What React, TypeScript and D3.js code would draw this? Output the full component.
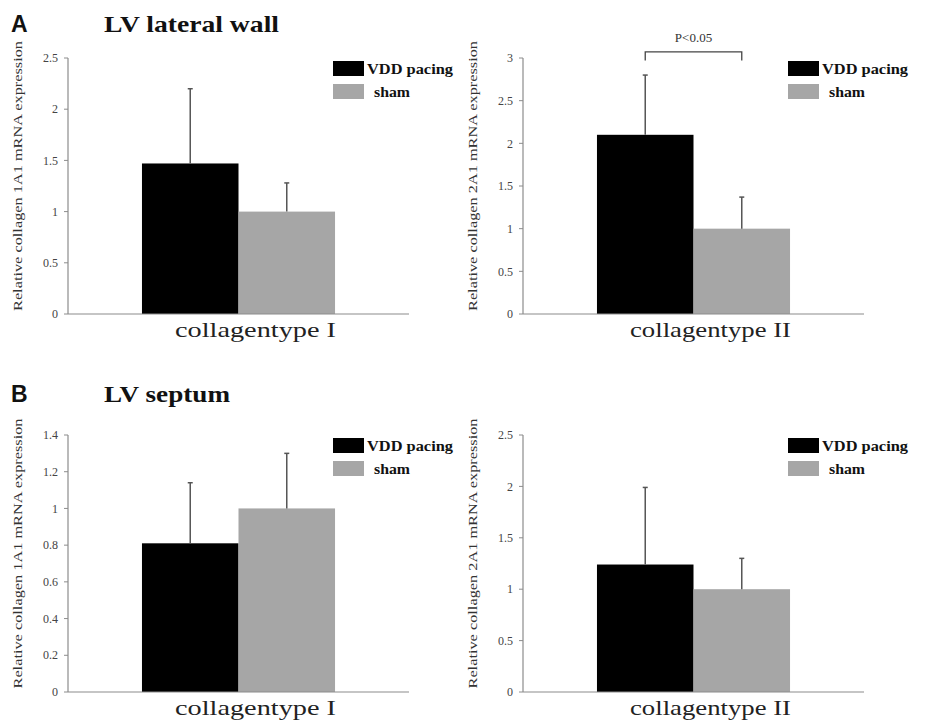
import React from "react";
import * as d3 from "d3";

// values
const series = ["VDD pacing", "sham"];
const category = ["collagen"];

const latIMeans = [1.47, 1.0];
const latIErr = [2.2, 1.28];
const latIIMeans = [2.1, 1.0];
const latIIErr = [2.8, 1.37];
const sepIMeans = [0.81, 1.0];
const sepIErr = [1.14, 1.3];
const sepIIMeans = [1.24, 1.0];
const sepIIErr = [1.99, 1.3];

const ticks25 = [0, 0.5, 1, 1.5, 2, 2.5];
const ticks3 = [0, 0.5, 1, 1.5, 2, 2.5, 3];
const ticks14 = [0, 0.2, 0.4, 0.6, 0.8, 1, 1.2, 1.4];

const colors = ["#000000", "#a6a6a6"];
const serif = "'Liberation Serif', 'Times New Roman', serif";

const plotW = 341;

type PanelProps = {
  x: number;
  top: number;
  bottom: number;
  means: number[];
  errs: number[];
  ticks: number[];
  yLabel: string;
  xLabel: string;
  pValue?: string;
};

function Panel({ x, top, bottom, means, errs, ticks, yLabel, xLabel, pValue }: PanelProps) {
  const yMax = ticks[ticks.length - 1];
  const y = d3.scaleLinear().domain([0, yMax]).range([bottom, top]);
  const x0 = d3.scaleBand().domain(category).range([0, plotW]).padding(0.277);
  const x1 = d3.scaleBand().domain(series).range([0, x0.bandwidth()]);
  const bx = (s: string) => x + (x0(category[0]) ?? 0) + (x1(s) ?? 0);
  const mid = (s: string) => bx(s) + x1.bandwidth() / 2;

  return (
    <g>
      {/* bars */}
      {series.map((s, i) => (
        <rect key={s} x={bx(s)} y={y(means[i])} width={x1.bandwidth()} height={bottom - y(means[i])} fill={colors[i]} />
      ))}
      {/* error bars (upper only) */}
      {series.map((s, i) => (
        <g key={s + "err"} stroke="#555" strokeWidth={1.5}>
          <line x1={mid(s)} x2={mid(s)} y1={y(means[i])} y2={y(errs[i])} />
          <line x1={mid(s) - 2.5} x2={mid(s) + 2.5} y1={y(errs[i])} y2={y(errs[i])} />
        </g>
      ))}
      {/* axes */}
      <line x1={x} x2={x} y1={y(yMax)} y2={bottom} stroke="#8c8c8c" strokeWidth={1.2} />
      <line x1={x} x2={x + plotW} y1={bottom} y2={bottom} stroke="#8c8c8c" strokeWidth={1.2} />
      {ticks.map((t) => (
        <g key={t}>
          <line x1={x - 4} x2={x} y1={y(t)} y2={y(t)} stroke="#8c8c8c" strokeWidth={1} />
          <text x={x - 10} y={y(t)} dy="0.35em" textAnchor="end" fontFamily={serif} fontSize={12} fill="#444">
            {String(t)}
          </text>
        </g>
      ))}
      <text
        transform={`translate(${x - 46},${(top + bottom) / 2 - 10}) rotate(-90)`}
        textAnchor="middle"
        fontFamily={serif}
        fontSize={12.5}
        fill="#333"
        textLength={270}
        lengthAdjust="spacingAndGlyphs"
      >
        {yLabel}
      </text>
      <text
        x={x + plotW / 2 + 17}
        y={bottom + 23}
        textAnchor="middle"
        fontFamily={serif}
        fontSize={22}
        fill="#222"
        textLength={161}
        lengthAdjust="spacingAndGlyphs"
      >
        {xLabel}
      </text>
      {/* legend */}
      {series.map((s, i) => (
        <g key={s + "leg"}>
          <rect x={x + 265} y={top + 3 + i * 23} width={31} height={15} fill={colors[i]} />
          <text
            x={x + 265 + (i === 0 ? 34 : 41)}
            y={top + 3 + i * 23 + 13}
            fontFamily={serif}
            fontWeight="bold"
            fontSize={14}
            fill="#111"
            textLength={i === 0 ? 86 : 36}
            lengthAdjust="spacingAndGlyphs"
          >
            {s}
          </text>
        </g>
      ))}
      {pValue && (
        <g>
          <path
            d={`M${mid(series[0])},${y(yMax * 0.99)} V${y(yMax * 1.024)} H${mid(series[1])} V${y(yMax * 0.99)}`}
            fill="none"
            stroke="#444"
            strokeWidth={1.3}
          />
          <text
            x={(mid(series[0]) + mid(series[1])) / 2}
            y={y(yMax * 1.024) - 10}
            textAnchor="middle"
            fontFamily={serif}
            fontSize={13}
            fill="#333"
          >
            {pValue}
          </text>
        </g>
      )}
    </g>
  );
}

export default function App() {
  return (
    <svg width={926} height={723} style={{ position: "absolute", left: 0, top: 0, background: "#fff" }}>
      <text x={11} y={32} fontFamily="'Liberation Sans', Arial, sans-serif" fontWeight="bold" fontSize={23} fill="#111">
        A
      </text>
      <text x={104} y={32} fontFamily={serif} fontWeight="bold" fontSize={24} fill="#111" textLength={175} lengthAdjust="spacingAndGlyphs">
        LV lateral wall
      </text>
      <text x={11} y={402} fontFamily="'Liberation Sans', Arial, sans-serif" fontWeight="bold" fontSize={23} fill="#111">
        B
      </text>
      <text x={104} y={402} fontFamily={serif} fontWeight="bold" fontSize={24} fill="#111" textLength={126} lengthAdjust="spacingAndGlyphs">
        LV septum
      </text>

      <Panel x={68} top={58} bottom={314} means={latIMeans} errs={latIErr} ticks={ticks25}
        yLabel="Relative collagen  1A1 mRNA expression" xLabel="collagentype I" />
      <Panel x={523} top={58} bottom={314} means={latIIMeans} errs={latIIErr} ticks={ticks3}
        yLabel="Relative collagen  2A1 mRNA expression" xLabel="collagentype II" pValue="P<0.05" />
      <Panel x={68} top={435} bottom={692} means={sepIMeans} errs={sepIErr} ticks={ticks14}
        yLabel="Relative collagen  1A1 mRNA expression" xLabel="collagentype I" />
      <Panel x={523} top={435} bottom={692} means={sepIIMeans} errs={sepIIErr} ticks={ticks25}
        yLabel="Relative collagen  2A1 mRNA expression" xLabel="collagentype II" />
    </svg>
  );
}
